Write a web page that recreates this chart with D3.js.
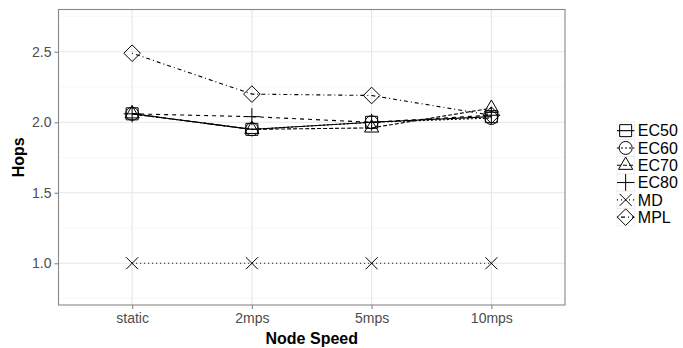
<!DOCTYPE html>
<html><head><meta charset="utf-8">
<script src="https://cdn.jsdelivr.net/npm/d3@7"></script>
<style>body{margin:0;background:#fff}svg{display:block}text{font-family:"Liberation Sans",Arial,sans-serif}</style>
</head><body><svg id="c" width="683" height="348"></svg>
<script>
const categories = ["static","2mps","5mps","10mps"];
const seriesNames = ["EC50","EC60","EC70","EC80","MD","MPL"];
const ec50 = [2.06, 1.95, 2.00, 2.04];
const ec60 = [2.06, 1.95, 2.00, 2.03];
const ec70 = [2.06, 1.95, 1.96, 2.10];
const ec80 = [2.06, 2.04, 2.00, 2.05];
const md   = [1.00, 1.00, 1.00, 1.00];
const mpl  = [2.49, 2.20, 2.19, 2.05];
const yTicks = [1.0, 1.5, 2.0, 2.5];
const yMinor = [0.75, 1.25, 1.75, 2.25, 2.75];

const series = [
  {name:"EC50", values:ec50, shape:"square",   dash:null},
  {name:"EC60", values:ec60, shape:"circle",   dash:"2,2"},
  {name:"EC70", values:ec70, shape:"triangle", dash:"4,2"},
  {name:"EC80", values:ec80, shape:"plus",     dash:"4,4"},
  {name:"MD",   values:md,   shape:"cross",    dash:"1,3"},
  {name:"MPL",  values:mpl,  shape:"diamond",  dash:"1,3,4,3"}
];

const svg = d3.select("#c");
const P = {l:58.5, r:565, t:9.5, b:305};
const x = d3.scalePoint().domain(categories).range([P.l, P.r]).padding(0.615);
const y = d3.scaleLinear().domain([0.704, 2.8]).range([P.b, P.t]);

// grid
const g = svg.append("g");
g.selectAll(".mn").data(yMinor).enter().append("line")
  .attr("x1",P.l).attr("x2",P.r).attr("y1",d=>y(d)).attr("y2",d=>y(d))
  .attr("stroke","#f3f3f3").attr("stroke-width",0.6);
g.selectAll(".mj").data(yTicks).enter().append("line")
  .attr("x1",P.l).attr("x2",P.r).attr("y1",d=>y(d)).attr("y2",d=>y(d))
  .attr("stroke","#e6e6e6").attr("stroke-width",1.1);
g.selectAll(".mx").data(categories).enter().append("line")
  .attr("y1",P.t).attr("y2",P.b).attr("x1",d=>x(d)).attr("x2",d=>x(d))
  .attr("stroke","#e6e6e6").attr("stroke-width",1.1);

function shapePath(s, cx, cy){
  const p = d3.path();
  if(s==="square"){ const h=6; p.rect(cx-h,cy-h,2*h,2*h); }
  else if(s==="circle"){ p.moveTo(cx+6.5,cy); p.arc(cx,cy,6.5,0,2*Math.PI); }
  else if(s==="triangle"){ const r=8.2; p.moveTo(cx,cy-r); p.lineTo(cx+r*0.866,cy+r*0.5); p.lineTo(cx-r*0.866,cy+r*0.5); p.closePath(); }
  else if(s==="plus"){ const h=8.5; p.moveTo(cx-h,cy); p.lineTo(cx+h,cy); p.moveTo(cx,cy-h); p.lineTo(cx,cy+h); }
  else if(s==="cross"){ const h=6; p.moveTo(cx-h,cy-h); p.lineTo(cx+h,cy+h); p.moveTo(cx-h,cy+h); p.lineTo(cx+h,cy-h); }
  else if(s==="diamond"){ const h=8.3; p.moveTo(cx,cy-h); p.lineTo(cx+h,cy); p.lineTo(cx,cy+h); p.lineTo(cx-h,cy); p.closePath(); }
  return p.toString();
}

const line = d3.line().x((d,i)=>x(categories[i])).y(d=>y(d));
const sg = svg.append("g");
series.forEach(s=>{
  sg.append("path").attr("d",line(s.values)).attr("fill","none").attr("stroke","#000")
    .attr("stroke-width",1.1).attr("stroke-dasharray",s.dash);
});
series.forEach(s=>{
  s.values.forEach((v,i)=>{
    sg.append("path").attr("d",shapePath(s.shape,x(categories[i]),y(v)))
      .attr("fill","none").attr("stroke","#000").attr("stroke-width",1);
  });
});

// border
svg.append("rect").attr("x",P.l).attr("y",P.t).attr("width",P.r-P.l).attr("height",P.b-P.t)
  .attr("fill","none").attr("stroke","#888").attr("stroke-width",1.1);

// axes
const ya = svg.append("g").attr("transform",`translate(${P.l},0)`)
  .call(d3.axisLeft(y).tickValues(yTicks).tickFormat(d3.format(".1f")).tickSize(4).tickPadding(3));
const xa = svg.append("g").attr("transform",`translate(0,${P.b})`)
  .call(d3.axisBottom(x).tickSize(4).tickPadding(4));
[ya,xa].forEach(a=>{
  a.select(".domain").remove();
  a.selectAll(".tick line").attr("stroke","#888").attr("stroke-width",1.1);
  a.selectAll("text").attr("fill","#4d4d4d").style("font-size","14px");
});

svg.append("text").attr("x",(P.l+P.r)/2).attr("y",344).attr("text-anchor","middle")
  .style("font-size","16px").style("font-weight","bold").text("Node Speed");
svg.append("text").attr("transform",`translate(24,${(P.t+P.b)/2}) rotate(-90)`).attr("text-anchor","middle")
  .style("font-size","16px").style("font-weight","bold").text("Hops");

// legend
const lg = svg.append("g").attr("transform","translate(617,122)");
const ks = 17.3;
series.forEach((s,i)=>{
  const k = lg.append("g").attr("transform",`translate(0,${i*ks})`);
  k.append("rect").attr("width",ks).attr("height",ks).attr("fill","#fff").attr("stroke","#ebebeb").attr("stroke-width",0.8);
  k.append("line").attr("x1",0).attr("x2",ks).attr("y1",ks/2).attr("y2",ks/2)
    .attr("stroke","#000").attr("stroke-width",1.1).attr("stroke-dasharray",s.dash);
  k.append("path").attr("d",shapePath(s.shape,ks/2,ks/2)).attr("fill","none").attr("stroke","#000").attr("stroke-width",1);
  k.append("text").attr("x",ks+3.5).attr("y",ks/2).attr("dy","0.36em").style("font-size","16px").text(s.name);
});
</script></body></html>
